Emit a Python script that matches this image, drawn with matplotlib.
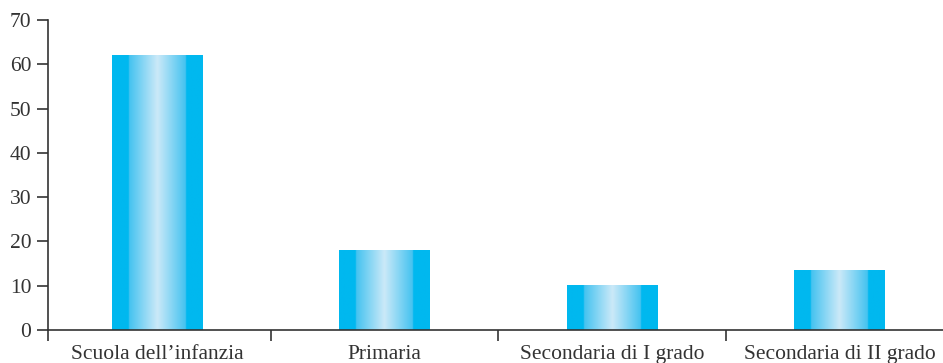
import numpy as np
import matplotlib.pyplot as plt
from matplotlib.colors import LinearSegmentedColormap

categories = ["Scuola dell\u2019infanzia", "Primaria", "Secondaria di I grado", "Secondaria di II grado"]
values = [62, 18, 10, 13.4]
yticks = [0, 10, 20, 30, 40, 50, 60, 70]

plt.rcParams['font.family'] = ['Liberation Serif', 'DejaVu Serif']

fig = plt.figure(figsize=(9.43, 3.63), dpi=100)
ax = fig.add_axes([48 / 943, 33 / 363, 1 - 48 / 943, 310 / 363])

# horizontal shading across each bar: flat cyan at the sides, pale in the middle
cmap = LinearSegmentedColormap.from_list(
    "barshade",
    [(0.0, "#00b8ef"), (0.18, "#00b8ef"), (0.19, "#45c3f0"),
     (0.5, "#cbe9f8"), (0.81, "#45c3f0"), (0.82, "#00b8ef"), (1.0, "#00b8ef")])
grad = np.linspace(0, 1, 256).reshape(1, -1)

width = 0.40
for i, v in enumerate(values):
    ax.imshow(grad, cmap=cmap, aspect='auto', interpolation='bilinear',
              extent=(i - width / 2, i + width / 2, 0, v), zorder=2)

ax.set_xlim(-0.48, 3.455)
ax.set_ylim(0, 70)

ax.set_yticks(yticks)
ax.set_yticklabels([str(t) for t in yticks], fontsize=15.5, color="#333333")
ax.set_xticks(range(len(categories)))
ax.set_xticklabels(categories, fontsize=15.5, color="#333333")
ax.tick_params(axis='x', which='major', length=0, pad=11)
ax.set_xticks([-0.48, 0.5, 1.5, 2.5], minor=True)
ax.tick_params(axis='x', which='minor', length=8, width=1.2, color="#333333", direction='out')
ax.tick_params(axis='y', length=8, width=1.2, color="#333333", direction='out', pad=4)

for side in ('top', 'right'):
    ax.spines[side].set_visible(False)
for side in ('left', 'bottom'):
    ax.spines[side].set_color("#333333")
    ax.spines[side].set_linewidth(1.2)

fig.savefig("out.png", dpi=100)
